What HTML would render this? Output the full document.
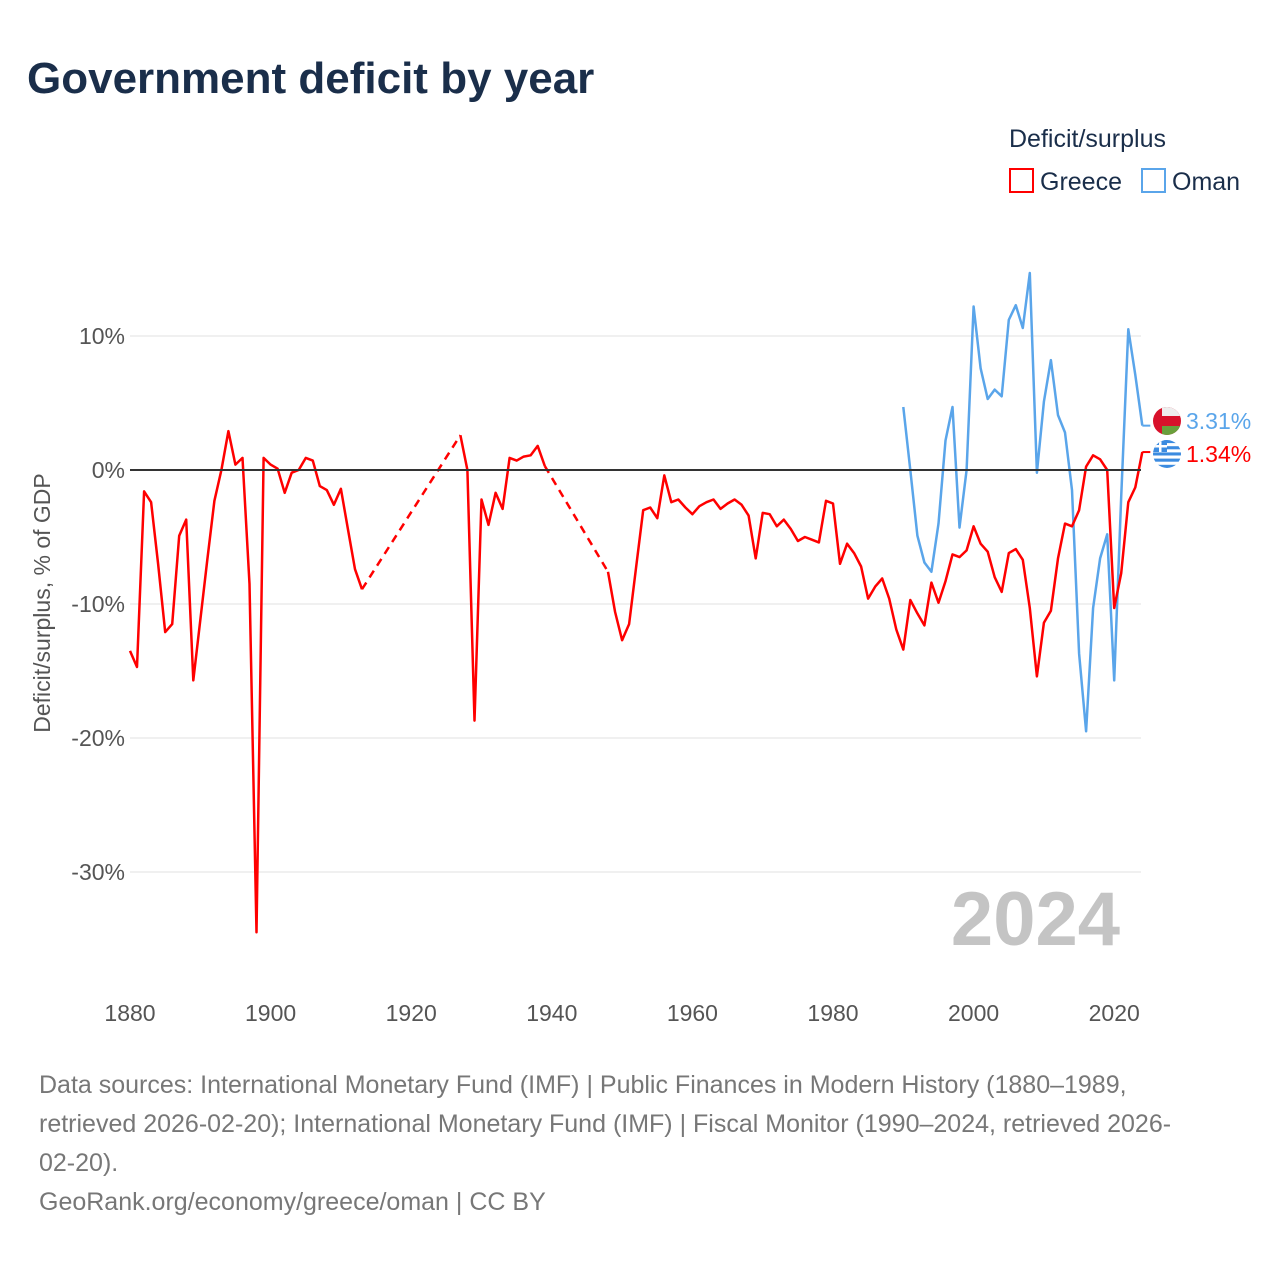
<!DOCTYPE html>
<html><head><meta charset="utf-8"><style>
body{margin:0;background:#fff;font-family:"Liberation Sans","DejaVu Sans",sans-serif;}
#wrap{position:relative;width:1280px;height:1280px;overflow:hidden;background:#fff}
</style></head><body>
<div id="wrap">
<svg id="svg" width="1280" height="1280" xmlns="http://www.w3.org/2000/svg">
<text x="27" y="93" font-size="44" font-weight="bold" fill="#1a2e4a">Government deficit by year</text>
<text x="1009" y="147" font-size="25" fill="#1a2e4a">Deficit/surplus</text>
<g><rect x="1010" y="169" width="23" height="23" fill="none" stroke="#ff0000" stroke-width="2"/><text x="1040" y="190" font-size="25" fill="#1a2e4a">Greece</text></g>
<g><rect x="1142" y="169" width="23" height="23" fill="none" stroke="#5aa5ea" stroke-width="2"/><text x="1172" y="190" font-size="25" fill="#1a2e4a">Oman</text></g>
<g id="grid"></g>
<g id="yt"></g>
<g id="xt"></g>
<text transform="translate(50,603) rotate(-90)" text-anchor="middle" font-size="23" fill="#555">Deficit/surplus, % of GDP</text>
<text x="1120" y="945" text-anchor="end" font-size="76" font-weight="bold" fill="#c4c4c4">2024</text>
<g id="series"></g>
<g>
<clipPath id="co"><circle cx="1167" cy="421" r="14"/></clipPath>
<g clip-path="url(#co)"><rect x="1153" y="407" width="28" height="28" fill="#d8112b"/><rect x="1162" y="407" width="19" height="9" fill="#eee"/><rect x="1162" y="426" width="19" height="9" fill="#6a9f3c"/></g></g>
<g>
<clipPath id="cg"><circle cx="1167" cy="454" r="14"/></clipPath>
<g clip-path="url(#cg)"><rect x="1153" y="440" width="28" height="28" fill="#fff"/>
<rect x="1153" y="440" width="28" height="3.1" fill="#3b8be0"/><rect x="1153" y="446.2" width="28" height="3.1" fill="#3b8be0"/><rect x="1153" y="452.4" width="28" height="3.1" fill="#3b8be0"/><rect x="1153" y="458.6" width="28" height="3.1" fill="#3b8be0"/><rect x="1153" y="464.8" width="28" height="3.2" fill="#3b8be0"/>
<rect x="1153" y="440" width="14" height="12" fill="#3b8be0"/><rect x="1159" y="440" width="2.5" height="12" fill="#fff"/><rect x="1153" y="445" width="14" height="2.5" fill="#fff"/></g></g>
<text x="1186" y="429" font-size="23" fill="#5aa5ea">3.31%</text>
<text x="1186" y="462" font-size="23" fill="#ff0000">1.34%</text>
</svg>
<div style="position:absolute;left:39px;top:1066px;width:1230px;font-size:25px;line-height:39px;color:#777;white-space:nowrap">Data sources: International Monetary Fund (IMF) | Public Finances in Modern History (1880–1989,<br>retrieved 2026-02-20); International Monetary Fund (IMF) | Fiscal Monitor (1990–2024, retrieved 2026-<br>02-20).<br>GeoRank.org/economy/greece/oman | CC BY</div>
</div>
<script>
const greeceStart = 1880;
const greeceValues = [-13.5,-14.7,-1.6,-2.4,-7,-12.1,-11.5,-4.9,-3.7,-15.7,-11.2,-6.7,-2.3,0,2.9,0.4,0.9,-8.5,-34.5,0.9,
0.4,0.1,-1.7,-0.2,0,0.9,0.7,-1.2,-1.5,-2.6,-1.4,-4.4,-7.4,-8.9,null,null,null,null,null,null,null,null,null,null,null,null,null,2.6,0,-18.7,
-2.2,-4.1,-1.7,-2.9,0.9,0.7,1.0,1.1,1.8,0.3,null,null,null,null,null,null,null,null,-7.6,-10.6,
-12.7,-11.5,-7.2,-3.0,-2.8,-3.6,-0.4,-2.4,-2.2,-2.8,-3.3,-2.7,-2.4,-2.2,-2.9,-2.5,-2.2,-2.6,-3.4,-6.6,
-3.2,-3.3,-4.2,-3.7,-4.4,-5.3,-5.0,-5.2,-5.4,-2.3,-2.5,-7.0,-5.5,-6.2,-7.2,-9.6,-8.7,-8.1,-9.6,-11.9,
-13.4,-9.7,-10.7,-11.6,-8.4,-9.9,-8.3,-6.3,-6.5,-6.0,-4.2,-5.5,-6.1,-8.0,-9.1,-6.2,-5.9,-6.7,-10.3,-15.4,
-11.4,-10.5,-6.6,-4.0,-4.2,-3.0,0.25,1.1,0.8,0,-10.3,-7.7,-2.4,-1.3,1.34];
const omanStart = 1990;
const omanValues = [4.7,0,-4.9,-6.9,-7.6,-4.0,2.2,4.7,-4.3,0,12.2,7.6,5.3,6.0,5.5,11.2,12.3,10.6,14.7,-0.2,
5.1,8.2,4.1,2.8,-1.5,-13.7,-19.5,-10.3,-6.6,-4.8,-15.7,-2,10.5,7.1,3.31];
const yTicks = [10,0,-10,-20,-30];
const yTickLabels = ["10%","0%","-10%","-20%","-30%"];
const xTicks = [1880,1900,1920,1940,1960,1980,2000,2020];

const NS="http://www.w3.org/2000/svg";
const X0=130, X1=1141;
function xs(yr){return 130+(yr-1880)*7.03;}
function ys(v){return 470-v*13.4;}
function mk(tag,attrs,parent){const e=document.createElementNS(NS,tag);for(const k in attrs)e.setAttribute(k,attrs[k]);parent.appendChild(e);return e;}
const grid=document.getElementById('grid'),yt=document.getElementById('yt'),xt=document.getElementById('xt'),ser=document.getElementById('series');
yTicks.forEach((v,i)=>{
  if(v!==0){const l=mk('line',{x1:X0,x2:X1,y1:ys(v),y2:ys(v),stroke:'#e6e6e6','stroke-width':1.3},grid);
  
  }
  const t=mk('text',{x:125,y:ys(v)+8,'text-anchor':'end','font-size':23,fill:'#555'},yt);
  t.textContent=yTickLabels[i];
  
  
});
xTicks.forEach(yr=>{
  const t=mk('text',{x:xs(yr),y:1021,'text-anchor':'middle','font-size':23,fill:'#555'},xt);
  t.textContent=yr;
  
  
});
function drawSeries(start,vals,color,name){
  let seg=[],lastIdx=-1;
  const segs=[],dashes=[];
  vals.forEach((v,i)=>{
    if(v===null){if(seg.length){segs.push(seg);seg=[];}return;}
    if(lastIdx>=0 && i-lastIdx>1){dashes.push([[xs(start+lastIdx),ys(vals[lastIdx])],[xs(start+i),ys(v)]]);}
    seg.push([xs(start+i),ys(v)]);lastIdx=i;
  });
  if(seg.length)segs.push(seg);
  segs.forEach(s=>{
    const p=mk('path',{d:'M'+s.map(q=>q[0].toFixed(1)+','+q[1].toFixed(1)).join('L'),fill:'none',stroke:color,'stroke-width':2.5,'stroke-linejoin':'round'},ser);
    
    
  });
  dashes.forEach(d=>{
    const p=mk('path',{d:'M'+d[0].join(',')+'L'+d[1].join(','),fill:'none',stroke:color,'stroke-width':2.5,'stroke-dasharray':'8,6'},ser);
    
    
  });
  const lx=xs(start+vals.length-1),ly=ys(vals[vals.length-1]);
  const st=mk('line',{x1:lx,x2:lx+8,y1:ly,y2:ly,stroke:color,'stroke-width':2},ser);
  
  
}
drawSeries(omanStart,omanValues,'#5aa5ea','oman');
drawSeries(greeceStart,greeceValues,'#ff0000','greece');
const z=mk('line',{x1:X0,x2:X1,y1:ys(0),y2:ys(0),stroke:'#333','stroke-width':2},ser);


</script>
</body></html>
